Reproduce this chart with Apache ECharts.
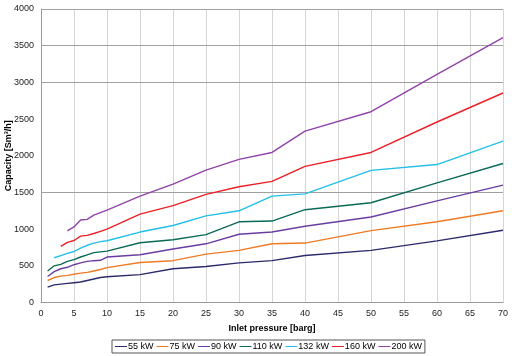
<!DOCTYPE html>
<html><head><meta charset="utf-8">
<script src="https://cdn.jsdelivr.net/npm/echarts@6/dist/echarts.min.js"></script>
<style>html,body{margin:0;padding:0;background:#fff}#c{width:523px;height:356px}</style>
</head><body><div id="c"></div>
<script>
const pressures = [1,2,3,4,5,6,7,8,9,10,15,20,25,30,35,40,50,60,70];
const names = ['55 kW','75 kW','90 kW','110 kW','132 kW','160 kW','200 kW'];
const s55  = [210,240,250,260,270,280,300,320,340,350,380,460,490,540,570,640,710,840,985];
const s75  = [300,340,360,370,385,400,410,430,450,475,545,570,660,710,800,810,980,1100,1250];
const s90  = [355,420,460,480,515,540,560,570,575,620,650,730,800,930,960,1040,1165,1385,1600];
const s110 = [430,500,520,560,585,620,650,680,690,700,815,855,925,1100,1110,1265,1360,1630,1895];
const s132 = [null,610,640,670,695,740,780,810,830,842,960,1050,1180,1250,1450,1480,1800,1880,2200];
const s160 = [null,null,765,820,845,905,915,940,970,1000,1205,1320,1473,1578,1650,1855,2045,2460,2855];
const s200 = [null,null,null,975,1030,1125,1133,1190,1225,1260,1450,1614,1805,1950,2045,2335,2600,3110,3610];
const yTicks = [0,500,1000,1500,2000,2500,3000,3500,4000];
const xTicks = [0,5,10,15,20,25,30,35,40,45,50,55,60,65,70];
const visibleHLines = [1500,3000,3500,4000];

const allSeries = [s55,s75,s90,s110,s132,s160,s200];
const colors = ['#2b2a6b','#f07a24','#6a3ea0','#0a6a58','#22bfe8','#ec2026','#9143a8'];
const font = 'Liberation Sans, Arial, sans-serif';

const series = allSeries.map((arr,i)=>({
  name:names[i],type:'line',
  data: pressures.map((p,j)=>arr[j]==null?null:[p,arr[j]]).filter(d=>d),
  symbol:'none',
  lineStyle:{color:colors[i],width:1.4},
  itemStyle:{color:colors[i]},
  z:3
}));
series[0].markLine = {
  silent:true,symbol:['none','none'],label:{show:false},animation:false,
  lineStyle:{color:'#a0a0a0',width:1,type:'solid'},
  data: visibleHLines.map(v=>({yAxis:v})),
  z:1
};

const chart = echarts.init(document.getElementById('c'), null, {renderer:'canvas'});
chart.setOption({
  animation:false,
  backgroundColor:'#fff',
  grid:{left:41,right:20,top:9,bottom:53.5,containLabel:false,outerBoundsMode:'none'},
  xAxis:{
    type:'value',min:xTicks[0],max:xTicks[xTicks.length-1],interval:5,
    name:'Inlet pressure [barg]',nameLocation:'middle',nameGap:22,nameMoveOverlap:false,
    nameTextStyle:{fontFamily:font,fontSize:9,fontWeight:'bold',color:'#000'},
    axisLine:{show:true,lineStyle:{color:'#999',width:1}},
    axisTick:{show:false},
    axisLabel:{fontFamily:font,fontSize:9,color:'#222',margin:7},
    splitLine:{show:true,lineStyle:{color:'#d6d6d6',width:1}}
  },
  yAxis:{
    type:'value',min:yTicks[0],max:yTicks[yTicks.length-1],interval:500,
    name:'Capacity [Sm³/h]',nameLocation:'middle',nameGap:28,nameMoveOverlap:false,
    nameTextStyle:{fontFamily:font,fontSize:9,fontWeight:'bold',color:'#000'},
    axisLine:{show:true,lineStyle:{color:'#999',width:1}},
    axisTick:{show:false},
    axisLabel:{fontFamily:font,fontSize:9,color:'#222',margin:7,formatter:v=>String(v)},
    splitLine:{show:false}
  },
  legend:{
    bottom:3,left:112,
    data:names,
    borderColor:'#555',borderWidth:1,borderRadius:0,
    padding:[2,3,2,3],itemGap:3,itemWidth:12,itemHeight:8,
    textStyle:{fontFamily:font,fontSize:9,color:'#000',padding:[0,0,0,-4]},
    icon:'path://M0,4 L12,4 L12,5 L0,5 Z'
  },
  series: series
});
</script></body></html>
